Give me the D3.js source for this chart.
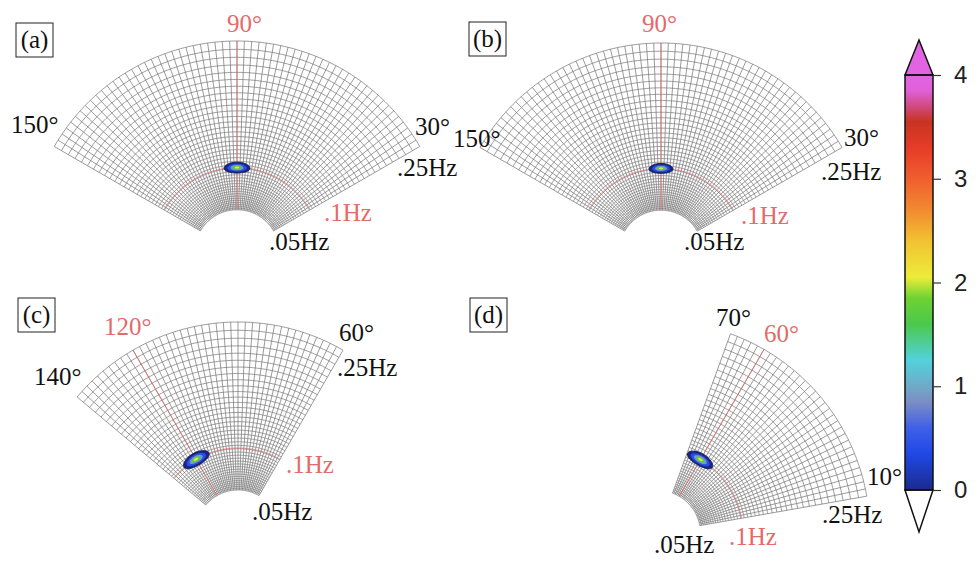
<!DOCTYPE html>
<html><head><meta charset="utf-8">
<script src="https://cdn.jsdelivr.net/npm/d3@7"></script>
<style>body{margin:0;background:#fff}</style>
</head><body><svg id="c" width="976" height="561"></svg>
<script>
// ---------- data ----------
const panelNames = ["(a)", "(b)", "(c)", "(d)"];
const dirMin = [30, 30, 60, 10];
const dirMax = [150, 150, 140, 70];
const peakDir = [90, 90, 120, 60];
const peakFreq = [0.1, 0.1, 0.1, 0.1];
const dirMinLabels = ["30°", "30°", "60°", "10°"];
const dirMaxLabels = ["150°", "150°", "140°", "70°"];
const peakDirLabels = ["90°", "90°", "120°", "60°"];
const freqLabels = [".05Hz", ".1Hz", ".25Hz"];
const freqMin = 0.05, freqMax = 0.25;
const dirStep = 2;
const nFreqBins = 40;
// contour levels (spectral density) and their half-extents per panel
const contourLevels = [0.05, 0.4, 0.9, 1.7, 2.1];
const contourDirHalf = [
  [8.8, 6.6, 4.4, 2.9, 1.5],
  [8.2, 6.1, 4.1, 2.7, 1.4],
  [9.8, 7.4, 5.0, 3.2, 1.7],
  [9.6, 7.2, 4.9, 3.1, 1.6]
];
const contourFreqHalf = [
  [0.0064, 0.0047, 0.0033, 0.0022, 0.0012],
  [0.0059, 0.0044, 0.0030, 0.0020, 0.0011],
  [0.0075, 0.0056, 0.0039, 0.0026, 0.0014],
  [0.0071, 0.0053, 0.0037, 0.0024, 0.0013]
];
const cbTicks = [0, 1, 2, 3, 4];
const cbStops  = [0, 0.35, 0.6, 0.85, 1.0, 1.25, 1.6, 1.85, 2.05, 2.4, 2.7, 3.0, 3.3, 3.55, 3.7, 3.85, 4.0];
const cbColors = ["#1b2a8e", "#2048e6", "#4060e8", "#7c8ec4", "#6eaac8", "#52d2dc", "#4cc84c", "#6ed232",
                  "#ecec3a", "#f2c232", "#f28a30", "#f05e2e", "#e63c28", "#c83422", "#d04a80", "#e060d8", "#e264e2"];

// ---------- layout ----------
const svg = d3.select("#c");
const layout = [
  {cx: 237, cy: 252, R: 211, box: [16, 23],
   labels: [[227, 32], [11, 133], [415, 135], [269, 250], [324, 221], [397, 176]]},
  {cx: 661, cy: 252, R: 209, box: [469, 22],
   labels: [[642, 32], [453, 147], [844, 146], [684, 250], [741, 224], [821, 180]]},
  {cx: 238, cy: 532, R: 210, box: [18, 298],
   labels: [[104, 335], [34, 385], [339, 341], [252, 520], [286, 473], [337, 376]]},
  {cx: 658, cy: 533, R: 212, box: [470, 298],
   labels: [[764, 342], [716, 326], [867, 485], [654, 553], [729, 545], [822, 523]]}
];

const color = d3.scaleLinear().domain(cbStops).range(cbColors).clamp(true);
const red = "#e46a6a";
const serif = "Liberation Serif, DejaVu Serif, serif";
const gridColor = "#7a7a7a";

panelNames.forEach((name, i) => {
  const L = layout[i];
  const rScale = d3.scaleLinear().domain([0, freqMax]).range([0, L.R]);
  const rad = d => d * Math.PI / 180;
  const pt = (dir, f) => [L.cx + rScale(f) * Math.cos(rad(dir)), L.cy - rScale(f) * Math.sin(rad(dir))];
  const g = svg.append("g");
  const line = d3.line();

  // frequency rings (log spaced)
  const q = Math.pow(freqMax / freqMin, 1 / nFreqBins);
  const freqs = d3.range(nFreqBins + 1).map(k => freqMin * Math.pow(q, k));
  const dirs = d3.range(dirMin[i], dirMax[i] + 0.001, dirStep);
  const arcDirs = d3.range(dirMin[i], dirMax[i] + 0.001, 0.5);
  g.append("g").selectAll("path").data(freqs).join("path")
    .attr("d", f => line(arcDirs.map(d => pt(d, f))))
    .attr("fill", "none").attr("stroke", gridColor).attr("stroke-width", 0.75);
  g.append("g").selectAll("path").data(dirs).join("path")
    .attr("d", d => line([pt(d, freqMin), pt(d, freqMax)]))
    .attr("fill", "none").attr("stroke", gridColor).attr("stroke-width", 0.75);

  // red reference lines
  g.append("path").attr("d", line([pt(peakDir[i], freqMin), pt(peakDir[i], freqMax)]))
    .attr("fill", "none").attr("stroke", red).attr("stroke-width", 1).attr("stroke-opacity", 0.75);
  g.append("path").attr("d", line(arcDirs.map(d => pt(d, peakFreq[i]))))
    .attr("fill", "none").attr("stroke", red).attr("stroke-width", 1).attr("stroke-opacity", 0.75);

  // spectrum contours (filled)
  const ts = d3.range(0, 2 * Math.PI + 0.001, Math.PI / 40);
  contourLevels.forEach((lev, k) => {
    const a = contourDirHalf[i][k], b = contourFreqHalf[i][k];
    const pts = ts.map(t => pt(peakDir[i] + a * Math.cos(t), peakFreq[i] + b * Math.sin(t)));
    g.append("path").attr("d", line(pts) + "Z").attr("fill", k === 0 ? "#1a2580" : color(lev))
      .attr("stroke", k === 0 ? "#121b66" : "none").attr("stroke-width", 1);
  });

  // labels
  const texts = [
    [peakDirLabels[i], red], [dirMaxLabels[i], "#111"], [dirMinLabels[i], "#111"],
    [freqLabels[0], "#111"], [freqLabels[1], red], [freqLabels[2], "#111"]
  ];
  texts.forEach((t, k) => {
    svg.append("text").attr("x", L.labels[k][0]).attr("y", L.labels[k][1])
      .style("font-family", serif).attr("font-size", 25).attr("fill", t[1]).text(t[0]);
  });

  // panel tag
  svg.append("rect").attr("x", L.box[0]).attr("y", L.box[1]).attr("width", 37).attr("height", 34)
    .attr("fill", "#fff").attr("stroke", "#222").attr("stroke-width", 1);
  svg.append("text").attr("x", L.box[0] + 18.5).attr("y", L.box[1] + 25)
    .attr("text-anchor", "middle").style("font-family", serif).attr("font-size", 25).attr("fill", "#111").text(name);
});

// ---------- colorbar ----------
const cbX = 905, cbW = 28, cbTop = 75, cbBot = 490;
const yC = d3.scaleLinear().domain([0, 4]).range([cbBot, cbTop]);
const defs = svg.append("defs");
const grad = defs.append("linearGradient").attr("id", "cb").attr("x1", 0).attr("y1", 1).attr("x2", 0).attr("y2", 0);
cbStops.forEach((s, k) => grad.append("stop").attr("offset", s / 4).attr("stop-color", cbColors[k]));
svg.append("rect").attr("x", cbX).attr("y", cbTop).attr("width", cbW).attr("height", cbBot - cbTop).attr("fill", "url(#cb)");
svg.append("path").attr("d", `M${cbX},${yC(4)}L${cbX + cbW / 2},${yC(4) - 35}L${cbX + cbW},${yC(4)}Z`)
  .attr("fill", color(4)).attr("stroke", "#111").attr("stroke-width", 1.5);
svg.append("path").attr("d", `M${cbX},${yC(0)}L${cbX + cbW / 2},${yC(0) + 42}L${cbX + cbW},${yC(0)}Z`)
  .attr("fill", "#fff").attr("stroke", "#111").attr("stroke-width", 1.5);
svg.append("rect").attr("x", cbX).attr("y", cbTop).attr("width", cbW).attr("height", cbBot - cbTop)
  .attr("fill", "none").attr("stroke", "#111").attr("stroke-width", 1.5);
const ax = svg.append("g").attr("transform", `translate(${cbX + cbW},0)`)
  .call(d3.axisRight(yC).tickValues(cbTicks).tickFormat(d3.format("d")).tickSize(8).tickPadding(13));
ax.select(".domain").remove();
ax.selectAll("line").attr("stroke", "#333").attr("stroke-width", 1.2);
ax.selectAll("text").style("font-family", "Liberation Sans, Arial, sans-serif").attr("font-size", 24).attr("fill", "#222");
</script></body></html>
